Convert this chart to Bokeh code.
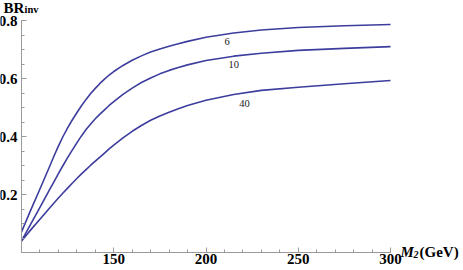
from bokeh.plotting import figure
from bokeh.models import FixedTicker, Label, Range1d
from bokeh.embed import file_html
from bokeh.resources import INLINE

# ---- data ----
m2 = [100, 105, 110, 115, 117.5, 120, 122.5, 125, 127.5, 130, 132.5, 135, 137.5,
      140, 142.5, 145, 147.5, 150, 155, 160, 165, 170, 175, 180, 185, 190, 200,
      215, 230, 250, 275, 300]
br_6 = [0.071, 0.146, 0.219, 0.293, 0.331, 0.367, 0.400, 0.430, 0.457, 0.482,
        0.506, 0.528, 0.548, 0.566, 0.583, 0.598, 0.612, 0.624, 0.645, 0.663,
        0.678, 0.691, 0.702, 0.711, 0.720, 0.728, 0.742, 0.757, 0.767, 0.776,
        0.782, 0.786]
br_10 = [0.040, 0.098, 0.156, 0.214, 0.243, 0.272, 0.300, 0.327, 0.353, 0.378,
         0.402, 0.424, 0.443, 0.461, 0.477, 0.492, 0.507, 0.520, 0.545, 0.567,
         0.586, 0.602, 0.616, 0.628, 0.638, 0.647, 0.662, 0.677, 0.687, 0.697,
         0.704, 0.710]
br_40 = [0.040, 0.078, 0.115, 0.152, 0.170, 0.188, 0.205, 0.222, 0.239, 0.255,
         0.271, 0.286, 0.301, 0.315, 0.329, 0.343, 0.357, 0.370, 0.395, 0.418,
         0.438, 0.456, 0.471, 0.484, 0.496, 0.507, 0.525, 0.545, 0.559, 0.570,
         0.582, 0.593]
series = [("6", br_6), ("10", br_10), ("40", br_40)]
curve_labels = ["6", "10", "40"]
label_x = [211.4, 215.1, 220.8]
label_y = [0.726, 0.650, 0.514]

x_bounds = (100, 300)
y_bounds = (0, 0.8)
x_major = [150, 200, 250, 300]
x_minor = list(range(100, 301, 10))
y_major = [0.2, 0.4, 0.6, 0.8]
y_minor = [i * 0.05 for i in range(0, 17)]

# ---- layout (pixels inside the figure) ----
W, H = 463, 270
PX_L, PX_R = 21, 390     # where x = 100 and x = 300 fall
PX_T, PX_B = 20, 252     # where y = 0.8 and y = 0 fall
xs = (PX_R - PX_L) / (x_bounds[1] - x_bounds[0])
ys = (PX_B - PX_T) / (y_bounds[1] - y_bounds[0])
x_rng = Range1d(x_bounds[0] - PX_L / xs, x_bounds[1] + (W - PX_R) / xs)
y_rng = Range1d(y_bounds[0] - (H - PX_B) / ys, y_bounds[1] + PX_T / ys)

LINE = "#3d3d9e"
AXIS = "#9a9a9a"
SERIF = "'Liberation Serif', 'Times New Roman', serif"

p = figure(width=W, height=H, output_backend="svg", toolbar_location=None,
           x_range=x_rng, y_range=y_rng, title=None,
           min_border_left=0, min_border_right=0, min_border_top=0,
           min_border_bottom=0)
p.outline_line_color = None
p.xgrid.visible = False
p.ygrid.visible = False
p.background_fill_color = "white"
p.border_fill_color = "white"

for name, ys_ in series:
    p.line(m2, ys_, line_color=LINE, line_width=1.6, line_join="round")

p.xaxis[0].fixed_location = y_bounds[0]
p.yaxis[0].fixed_location = x_bounds[0]
p.xaxis[0].bounds = x_bounds
p.yaxis[0].bounds = y_bounds
for ax, maj, mnr, so in ((p.xaxis[0], x_major, x_minor, 1),
                         (p.yaxis[0], y_major, y_minor, 4)):
    ax.ticker = FixedTicker(ticks=maj, minor_ticks=mnr)
    ax.axis_line_color = AXIS
    ax.major_tick_line_color = AXIS
    ax.minor_tick_line_color = AXIS
    ax.major_tick_in = 5
    ax.major_tick_out = 0
    ax.minor_tick_in = 3
    ax.minor_tick_out = 0
    ax.major_label_text_font = SERIF
    ax.major_label_text_font_style = "bold"
    ax.major_label_text_font_size = "15px"
    ax.major_label_text_color = "black"
    ax.major_label_standoff = so

for t, lx, ly in zip(curve_labels, label_x, label_y):
    p.add_layout(Label(x=lx, y=ly, text=t, text_font=SERIF, text_font_size="10.5px",
                       text_color="#1a1a1a", text_align="center",
                       text_baseline="middle"))

# axis titles
p.add_layout(Label(x=x_bounds[0], y=y_bounds[1], x_offset=-18, y_offset=13, text="BR",
                   text_font=SERIF, text_font_style="bold", text_font_size="15px",
                   text_baseline="alphabetic", text_color="black"))
p.add_layout(Label(x=x_bounds[0], y=y_bounds[1], x_offset=3, y_offset=11, text="inv",
                   text_font=SERIF, text_font_style="bold", text_font_size="10.5px",
                   text_baseline="alphabetic", text_color="black"))
p.add_layout(Label(x=x_bounds[1], y=y_bounds[0], x_offset=10, y_offset=1, text="M",
                   text_font=SERIF, text_font_style="bold italic", text_font_size="15px",
                   text_baseline="alphabetic", text_color="black"))
p.add_layout(Label(x=x_bounds[1], y=y_bounds[0], x_offset=23, y_offset=-2, text="2",
                   text_font=SERIF, text_font_style="bold italic", text_font_size="10px",
                   text_baseline="alphabetic", text_color="black"))
p.add_layout(Label(x=x_bounds[1], y=y_bounds[0], x_offset=29, y_offset=1, text="(GeV)",
                   text_font=SERIF, text_font_style="bold", text_font_size="15px",
                   text_baseline="alphabetic", text_color="black"))

open("out.html", "w").write(file_html(p, INLINE))
